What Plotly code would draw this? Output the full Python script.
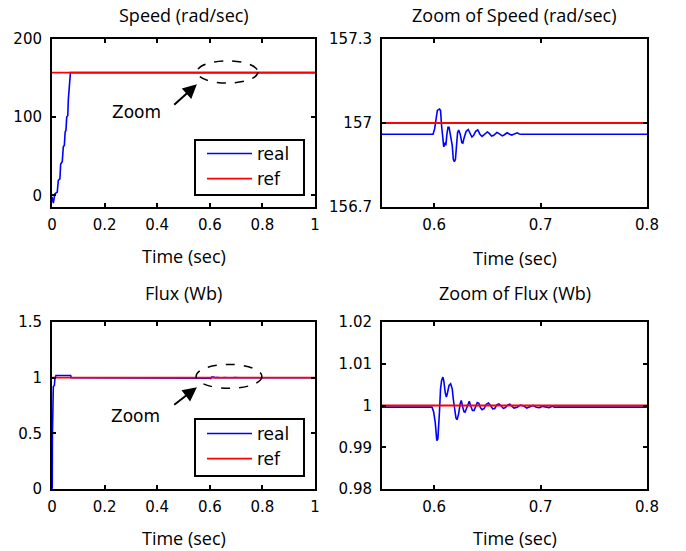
import plotly.graph_objects as go

# ---------------- data ----------------
speed_ref_value = 157.0
flux_ref_value = 1.0

speed_t = [0.0, 0.005, 0.011, 0.020, 0.024, 0.030, 0.033, 0.039, 0.043, 0.047, 0.050, 0.053,
           0.056, 0.060, 0.062, 0.065, 0.067, 0.070, 0.072,
           0.599, 0.6005, 0.602, 0.603, 0.605, 0.606, 0.607, 0.608, 0.609, 0.6105, 0.611, 0.612,
           0.613, 0.614, 0.615, 0.616, 0.617, 0.618, 0.619, 0.620, 0.621, 0.622, 0.623, 0.6245,
           0.626, 0.627, 0.628, 0.630, 0.632, 0.634, 0.6355, 0.637, 0.639, 0.641, 0.643, 0.645,
           0.647, 0.650, 0.652, 0.654, 0.656, 0.659, 0.661, 0.664, 0.666, 0.6686, 0.671, 0.673,
           0.676, 0.678, 0.680, 0.682, 1.0]
speed_real = [-2, -10, 2, 4, 19, 21, 40, 43, 62, 64, 81, 83,
              100, 102, 122, 139, 141, 156.96, 156.96,
              156.96, 156.98, 157.02, 157.045, 157.05, 157.045, 156.99, 156.95, 156.915, 156.93, 156.92, 156.96,
              156.985, 156.985, 156.96, 156.93, 156.92, 156.87, 156.862, 156.87, 156.93, 156.965, 156.975, 156.96,
              156.93, 156.928, 156.945, 156.97, 156.977, 156.96, 156.95, 156.955, 156.97, 156.975, 156.96, 156.952,
              156.958, 156.968, 156.962, 156.953, 156.956, 156.966, 156.962, 156.954, 156.958, 156.965, 156.96, 156.957,
              156.962, 156.965, 156.961, 156.96, 156.96]

flux_t = [0.0, 0.001, 0.0015, 0.004, 0.005, 0.009, 0.011, 0.015, 0.071, 0.073,
          0.598, 0.5995, 0.601, 0.602, 0.6025, 0.6035, 0.604, 0.605, 0.606, 0.607, 0.6082, 0.609,
          0.6105, 0.6115, 0.6125, 0.614, 0.6155, 0.617, 0.618, 0.619, 0.6205, 0.6215, 0.623, 0.6245,
          0.6255, 0.627, 0.628, 0.629, 0.6305, 0.632, 0.633, 0.6345, 0.636, 0.6375, 0.639, 0.6405,
          0.642, 0.6435, 0.645, 0.647, 0.649, 0.651, 0.653, 0.655, 0.657, 0.659, 0.661, 0.663,
          0.665, 0.667, 0.669, 0.671, 0.673, 0.675, 0.678, 0.681, 0.684, 0.687, 0.690, 0.693,
          0.696, 0.699, 0.702, 0.705, 0.708, 0.711, 0.713, 1.0]
flux_real = [0.0, 0.02, 0.47, 0.9, 0.92, 0.93, 0.99, 1.02, 1.02, 0.9996,
             0.9996, 0.9985, 0.996, 0.9925, 0.9916, 0.992, 0.9955, 0.9985, 1.004, 1.006, 1.0068, 1.006,
             1.003, 1.002, 1.003, 1.0048, 1.0052, 1.004, 1.0015, 0.999, 0.997, 0.9966, 0.998, 1.0005,
             1.0012, 0.9995, 0.9985, 0.9984, 0.9995, 1.0008, 1.001, 0.9998, 0.9988, 0.9988, 0.9998, 1.0007,
             1.0005, 0.9995, 0.999, 0.9993, 1.0003, 1.0006, 1.0, 0.9992, 0.9993, 1.0002, 1.0004, 0.9998,
             0.9993, 0.9995, 1.0001, 1.0003, 0.9998, 0.9994, 0.9996, 1.0001, 0.9999, 0.9994, 0.9997, 1.0,
             0.9996, 0.9995, 0.9998, 0.9996, 0.9995, 0.9998, 0.9996, 0.9996]

ref_t = [0.0, 1.0]

titles = ["Speed (rad/sec)", "Zoom of Speed (rad/sec)", "Flux (Wb)", "Zoom of Flux (Wb)"]
xlabel = "Time (sec)"
legend_names = ["real", "ref"]

main_xticks = [0, 0.2, 0.4, 0.6, 0.8, 1]
main_xticktext = ["0", "0.2", "0.4", "0.6", "0.8", "1"]
zoom_xticks = [0.6, 0.7, 0.8]
zoom_xticktext = ["0.6", "0.7", "0.8"]
speed_yticks = [0, 100, 200]
speed_zoom_yticks = [156.7, 157, 157.3]
speed_zoom_yticktext = ["156.7", "157", "157.3"]
flux_yticks = [0, 0.5, 1, 1.5]
flux_yticktext = ["0", "0.5", "1", "1.5"]
flux_zoom_yticks = [0.98, 0.99, 1.0, 1.01, 1.02]
flux_zoom_yticktext = ["0.98", "0.99", "1", "1.01", "1.02"]

# ---------------- figure ----------------
W, H = 686, 551
BLUE = "#0000FF"
RED = "#FF0000"
TICKFONT = dict(family="DejaVu Sans", size=15, color="black")
TITLEFONT = dict(family="Open Sans", size=18, color="black")
TEXTFONT = dict(family="DejaVu Sans", size=17, color="black")

def px_x(p):
    return p / W

def px_y(p):
    return 1 - p / H

fig = go.Figure()

fig.add_trace(go.Scatter(x=speed_t, y=speed_real, mode="lines", line=dict(color=BLUE, width=1.6),
                         name=legend_names[0], xaxis="x", yaxis="y", legend="legend"))
fig.add_trace(go.Scatter(x=ref_t, y=[speed_ref_value] * 2, mode="lines", line=dict(color=RED, width=1.8),
                         name=legend_names[1], xaxis="x", yaxis="y", legend="legend"))
fig.add_trace(go.Scatter(x=speed_t, y=speed_real, mode="lines", line=dict(color=BLUE, width=1.6),
                         showlegend=False, xaxis="x2", yaxis="y2"))
fig.add_trace(go.Scatter(x=ref_t, y=[speed_ref_value] * 2, mode="lines", line=dict(color=RED, width=1.8),
                         showlegend=False, xaxis="x2", yaxis="y2"))
fig.add_trace(go.Scatter(x=flux_t, y=flux_real, mode="lines", line=dict(color=BLUE, width=1.6),
                         name=legend_names[0], xaxis="x3", yaxis="y3", legend="legend2"))
fig.add_trace(go.Scatter(x=ref_t, y=[flux_ref_value] * 2, mode="lines", line=dict(color=RED, width=1.8),
                         name=legend_names[1], xaxis="x3", yaxis="y3", legend="legend2"))
fig.add_trace(go.Scatter(x=flux_t, y=flux_real, mode="lines", line=dict(color=BLUE, width=1.6),
                         showlegend=False, xaxis="x4", yaxis="y4"))
fig.add_trace(go.Scatter(x=ref_t, y=[flux_ref_value] * 2, mode="lines", line=dict(color=RED, width=1.8),
                         showlegend=False, xaxis="x4", yaxis="y4"))

common = dict(showline=True, linecolor="black", linewidth=2, mirror="ticks", ticks="inside",
              ticklen=4, tickwidth=2, tickcolor="black", showgrid=False, zeroline=False,
              tickfont=TICKFONT, fixedrange=True)

dom_xl = [px_x(52), px_x(315)]
dom_xr = [px_x(382), px_x(647)]
dom_yt = [px_y(207), px_y(39)]
dom_yb = [px_y(489), px_y(322)]

LEGFONT = dict(family="DejaVu Sans", size=17, color="black")

fig.update_layout(
    width=W, height=H, margin=dict(l=0, r=0, t=0, b=0, autoexpand=False),
    paper_bgcolor="white", plot_bgcolor="white",
    xaxis=dict(domain=dom_xl, range=[0, 1], tickvals=main_xticks, ticktext=main_xticktext,
               anchor="y", ticklabelstandoff=3, **common),
    yaxis=dict(domain=dom_yt, range=[-15, 200], tickvals=speed_yticks, anchor="x",
               ticklabelstandoff=5, **common),
    xaxis2=dict(domain=dom_xr, range=[0.551, 0.8], tickvals=zoom_xticks, ticktext=zoom_xticktext,
                anchor="y2", ticklabelstandoff=3, **common),
    yaxis2=dict(domain=dom_yt, range=[156.7, 157.3], tickvals=speed_zoom_yticks,
                ticktext=speed_zoom_yticktext, anchor="x2", ticklabelstandoff=5, **common),
    xaxis3=dict(domain=dom_xl, range=[0, 1], tickvals=main_xticks, ticktext=main_xticktext,
                anchor="y3", ticklabelstandoff=3, **common),
    yaxis3=dict(domain=dom_yb, range=[0, 1.5], tickvals=flux_yticks, ticktext=flux_yticktext,
                anchor="x3", ticklabelstandoff=5, **common),
    xaxis4=dict(domain=dom_xr, range=[0.551, 0.8], tickvals=zoom_xticks, ticktext=zoom_xticktext,
                anchor="y4", ticklabelstandoff=3, **common),
    yaxis4=dict(domain=dom_yb, range=[0.98, 1.02], tickvals=flux_zoom_yticks,
                ticktext=flux_zoom_yticktext, anchor="x4", ticklabelstandoff=5, **common),
    legend=dict(x=px_x(202), y=px_y(166.5), xanchor="left", yanchor="middle",
                bgcolor="rgba(0,0,0,0)", borderwidth=0, itemwidth=45, font=LEGFONT),
    legend2=dict(x=px_x(202), y=px_y(446.5), xanchor="left", yanchor="middle",
                 bgcolor="rgba(0,0,0,0)", borderwidth=0, itemwidth=45, font=LEGFONT),
)

anns = []
title_pos = [((52 + 315) / 2, 15), ((382 + 647) / 2, 15), ((52 + 315) / 2, 293), ((382 + 647) / 2, 293)]
for txt, (cx, cy) in zip(titles, title_pos):
    anns.append(dict(text=txt, x=px_x(cx), y=px_y(cy), xref="paper", yref="paper",
                     xanchor="center", yanchor="middle", showarrow=False, font=TITLEFONT))
label_pos = [((52 + 315) / 2, 256), ((382 + 647) / 2, 258), ((52 + 315) / 2, 538), ((382 + 647) / 2, 538)]
for (cx, cy) in label_pos:
    anns.append(dict(text=xlabel, x=px_x(cx), y=px_y(cy), xref="paper", yref="paper",
                     xanchor="center", yanchor="middle", showarrow=False, font=TITLEFONT))

anns.append(dict(text="Zoom", x=0.323, y=106, xref="x", yref="y", showarrow=False, font=TEXTFONT))
anns.append(dict(text="", x=0.551, y=142, ax=0.459, ay=114, xref="x", yref="y", axref="x", ayref="y",
                 showarrow=True, arrowhead=2, arrowsize=1.4, arrowwidth=2, arrowcolor="black"))
anns.append(dict(text="Zoom", x=0.316, y=0.656, xref="x3", yref="y3", showarrow=False, font=TEXTFONT))
anns.append(dict(text="", x=0.551, y=0.913, ax=0.459, ay=0.746, xref="x3", yref="y3", axref="x3", ayref="y3",
                 showarrow=True, arrowhead=2, arrowsize=1.4, arrowwidth=2, arrowcolor="black"))
fig.update_layout(annotations=anns)

shapes = [
    dict(type="circle", xref="x", yref="y", x0=0.551, x1=0.783, y0=143.6, y1=172,
         line=dict(color="black", width=1.5, dash="dash")),
    dict(type="circle", xref="x3", yref="y3", x0=0.548, x1=0.798, y0=0.904, y1=1.119,
         line=dict(color="black", width=1.5, dash="dash")),
    dict(type="rect", xref="paper", yref="paper", x0=px_x(195), x1=px_x(304), y0=px_y(195), y1=px_y(140),
         line=dict(color="black", width=2), fillcolor="rgba(0,0,0,0)"),
    dict(type="rect", xref="paper", yref="paper", x0=px_x(195), x1=px_x(304), y0=px_y(476), y1=px_y(419),
         line=dict(color="black", width=2), fillcolor="rgba(0,0,0,0)"),
]
fig.update_layout(shapes=shapes)

fig.write_html("out.html", config={"displayModeBar": False},
               post_script="document.body.style.margin='0';document.body.style.overflow='hidden';")
